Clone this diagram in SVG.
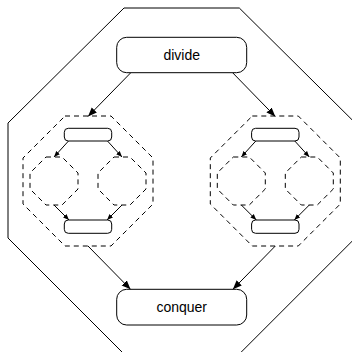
<svg xmlns="http://www.w3.org/2000/svg" width="352" height="352" viewBox="0 0 352 352">
<defs>
<style>
.frame{fill:none;stroke:#000;stroke-width:1}
.box{fill:#fff;stroke:#000;stroke-width:1}
.dash{fill:none;stroke:#000;stroke-width:1;stroke-dasharray:5,4}
.edge{fill:none;stroke:#000;stroke-width:1}
.lbl{font-family:"Liberation Sans",Arial,sans-serif;font-size:14px;fill:#000;text-anchor:middle}
</style>
<marker id="ah" viewBox="0 0 10 10" refX="10" refY="5" markerWidth="9" markerHeight="9" markerUnits="userSpaceOnUse" orient="auto">
<path d="M0,1 L10,5 L0,9 Z" fill="#000"/>
</marker>
<marker id="ahs" viewBox="0 0 10 10" refX="10" refY="5" markerWidth="6" markerHeight="6" markerUnits="userSpaceOnUse" orient="auto">
<path d="M0,1 L10,5 L0,9 Z" fill="#000"/>
</marker>
</defs>
<rect width="352" height="352" fill="#fff"/>
<g id="outer">
<polygon class="frame" points="124,8 239.3,8 355.3,123 355.3,238 239.3,354 124,354 8,238 8,123"/>
</g>
<g id="divide">
<rect class="box" x="116.7" y="37.3" width="130" height="35.4" rx="10"/>
<text class="lbl" x="181.7" y="59.6">divide</text>
</g>
<g id="conquer">
<rect class="box" x="116.7" y="289.3" width="130" height="35.7" rx="10"/>
<text class="lbl" x="181.7" y="311.8">conquer</text>
</g>
<g id="clusterL">
<polygon class="dash" points="65,116 111,116 153,158 153,204 111,246 65,246 23,204 23,158"/>
<g id="L-sub1"><polygon class="dash" points="46,157 62,157 78,173 78,189 62,205 46,205 30,189 30,173"/></g>
<g id="L-sub2"><polygon class="dash" points="114,157 130,157 146,173 146,189 130,205 114,205 98,189 98,173"/></g>
<g id="L-top"><rect class="box" x="64.3" y="128.3" width="47.4" height="12.7" rx="4"/></g>
<g id="L-bot"><rect class="box" x="64.3" y="220" width="47.4" height="13.3" rx="4"/></g>
</g>
<g id="clusterR">
<polygon class="dash" points="252.3,116 298.3,116 340.3,158 340.3,204 298.3,246 252.3,246 210.3,204 210.3,158"/>
<g id="R-sub1"><polygon class="dash" points="233.3,157 249.3,157 265.3,173 265.3,189 249.3,205 233.3,205 217.3,189 217.3,173"/></g>
<g id="R-sub2"><polygon class="dash" points="301.3,157 317.3,157 333.3,173 333.3,189 317.3,205 301.3,205 285.3,189 285.3,173"/></g>
<g id="R-top"><rect class="box" x="251.6" y="128.3" width="47.4" height="12.7" rx="4"/></g>
<g id="R-bot"><rect class="box" x="251.6" y="220" width="47.4" height="13.3" rx="4"/></g>
</g>
<g id="connectors">
<line class="edge" x1="130.5" y1="73" x2="88" y2="116.5" marker-end="url(#ah)"/>
<line class="edge" x1="232.9" y1="73" x2="275.3" y2="116.5" marker-end="url(#ah)"/>
<line class="edge" x1="88" y1="246" x2="130.5" y2="289.3" marker-end="url(#ah)"/>
<line class="edge" x1="275.3" y1="246" x2="232.9" y2="289.3" marker-end="url(#ah)"/>
<line class="edge" x1="68.5" y1="141" x2="54" y2="157" marker-end="url(#ahs)"/>
<line class="edge" x1="107.5" y1="141" x2="122" y2="157" marker-end="url(#ahs)"/>
<line class="edge" x1="54" y1="205" x2="69" y2="220" marker-end="url(#ahs)"/>
<line class="edge" x1="122" y1="205" x2="107" y2="220" marker-end="url(#ahs)"/>
<line class="edge" x1="255.8" y1="141" x2="241.3" y2="157" marker-end="url(#ahs)"/>
<line class="edge" x1="294.8" y1="141" x2="309.3" y2="157" marker-end="url(#ahs)"/>
<line class="edge" x1="241.3" y1="205" x2="256.3" y2="220" marker-end="url(#ahs)"/>
<line class="edge" x1="309.3" y1="205" x2="294.3" y2="220" marker-end="url(#ahs)"/>
</g>
</svg>
